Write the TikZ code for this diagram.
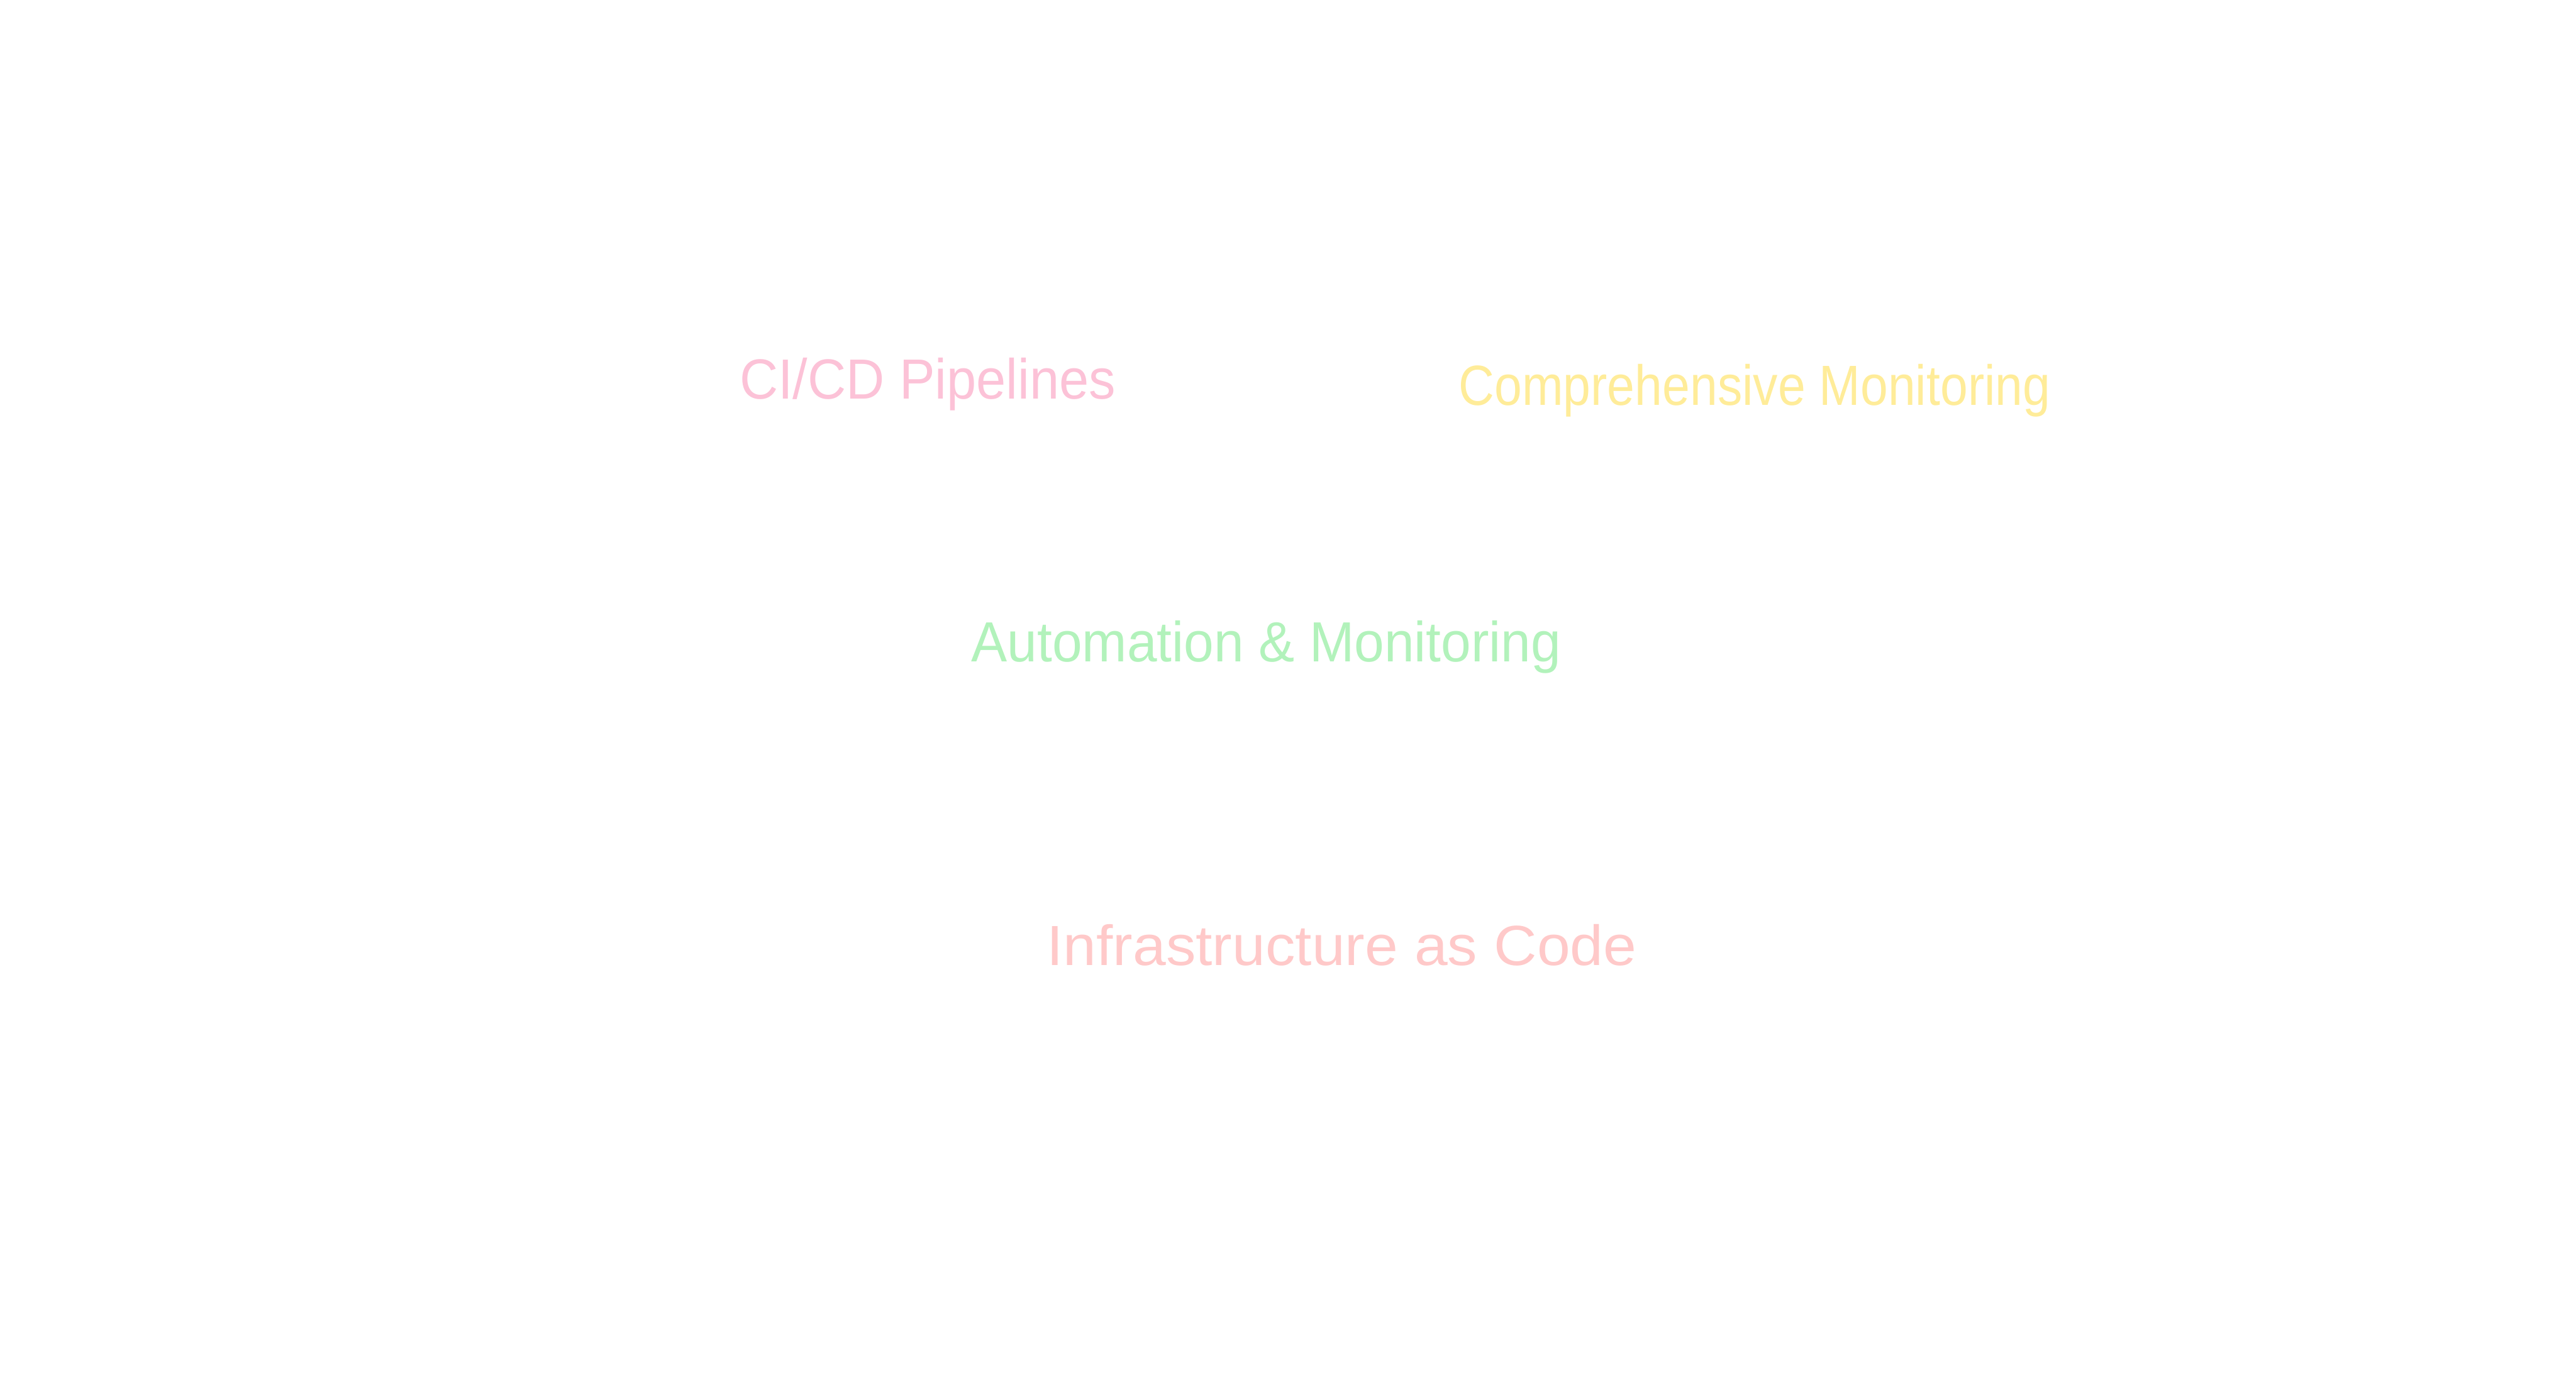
\documentclass[tikz,border=0pt]{standalone}
\usepackage{fontspec}
\setmainfont{Liberation Sans}
\usetikzlibrary{positioning}
\definecolor{exPink}{HTML}{FCC2D7}
\definecolor{exYellow}{HTML}{FFEC99}
\definecolor{exGreen}{HTML}{B2F2BB}
\definecolor{exRed}{HTML}{FFC9C9}
% stretch a label to the width it has in the sketch
\newcommand{\handlabel}[2]{\resizebox{#1}{\height}{#2}}
\tikzset{
  hlabel/.style={anchor=base west, inner sep=0pt, font=\fontsize{35}{42}\selectfont},
  pink/.style  ={hlabel, text=exPink},
  yellow/.style={hlabel, text=exYellow},
  green/.style ={hlabel, text=exGreen},
  red/.style   ={hlabel, text=exRed},
}
\begin{document}
\begin{tikzpicture}

  \useasboundingbox (0,0) rectangle (55.95,-30.08);

  % ---- Labels ------------------------------------------------------------
  \node[pink]   (cicd) at (16.06,-8.67)  {\handlabel{8.17cm}{CI/CD Pipelines}};
  \node[yellow] (mon)  at (31.68,-8.81)  {\handlabel{12.85cm}{Comprehensive Monitoring}};
  \node[green]  (auto) at (21.09,-14.38) {\handlabel{12.81cm}{Automation \& Monitoring}};
  \node[red]    (iac)  at (22.73,-20.98) {\handlabel{12.81cm}{Infrastructure as Code}};

\end{tikzpicture}
\end{document}
